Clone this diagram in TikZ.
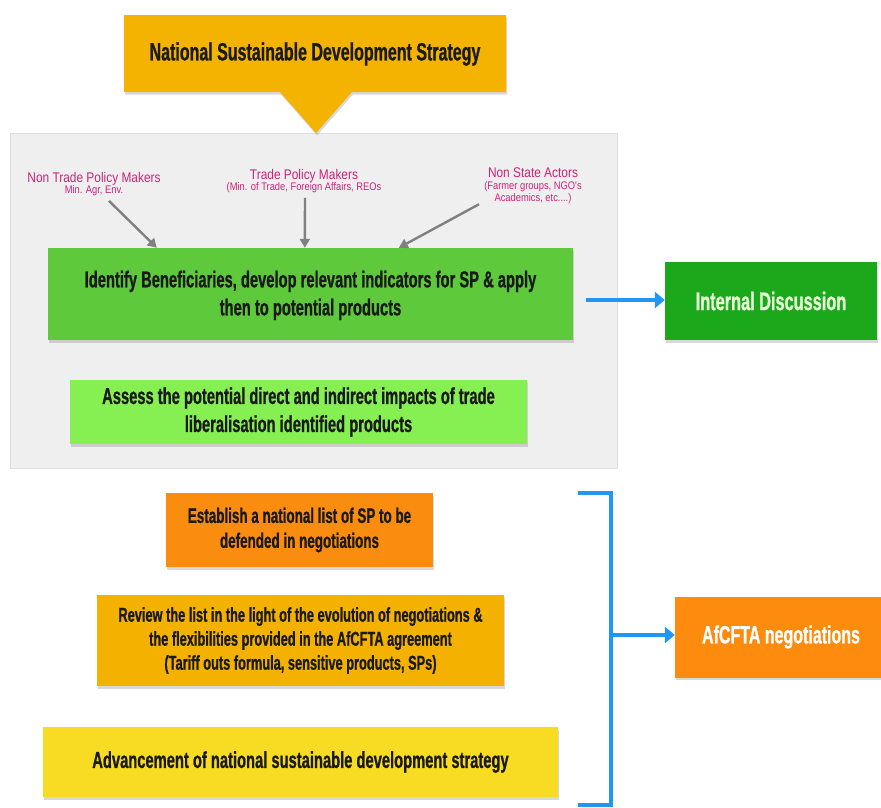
\documentclass[tikz,border=0pt]{standalone}
\usepackage{fontspec}
\setmainfont{Liberation Sans}
\newfontfamily\condb{Liberation Sans}[FakeStretch=0.64,FakeBold=0.8]
\newfontfamily\condr{Liberation Sans}[FakeStretch=0.85]
\usetikzlibrary{shadows,arrows.meta,calc}
\definecolor{titlecol}{HTML}{F3B300}
\definecolor{greenbox}{HTML}{5DC93B}
\definecolor{assessbox}{HTML}{86F053}
\definecolor{intdbox}{HTML}{1BA81B}
\definecolor{estbox}{HTML}{FA8C10}
\definecolor{revbox}{HTML}{F5B100}
\definecolor{advbox}{HTML}{F8DC23}
\definecolor{afcbox}{HTML}{FD8B0D}
\definecolor{blueline}{HTML}{2196F3}
\definecolor{magtext}{HTML}{CC2277}
\definecolor{grayarrow}{HTML}{808080}
\definecolor{panelfill}{HTML}{EFEFEF}
\definecolor{panelborder}{HTML}{DEDEDE}
\definecolor{darktext}{HTML}{1A1A1A}
\definecolor{lighttext}{HTML}{E6FFD8}
\tikzset{
  myshadow/.style={drop shadow={shadow xshift=1pt,shadow yshift=-2.5pt,opacity=0.3}},
  box/.style={inner sep=0pt,align=center,text=darktext,myshadow},
  lab/.style={inner sep=0pt,align=center,text=magtext},
  grayarr/.style={draw=grayarrow,line width=2.4pt,-{Triangle[length=9pt,width=10pt]}},
  bluearr/.style={draw=blueline,line width=4pt,-{Triangle[length=10pt,width=16pt]}},
  bluebr/.style={draw=blueline,line width=4pt}
}
\begin{document}
\begin{tikzpicture}[x=1pt,y=-1pt]
\useasboundingbox (0,0) rectangle (881,807);
\fill[white] (0,0) rectangle (881,807);
% panel
\node[fill=panelfill,draw=panelborder,line width=1pt,minimum width=607pt,minimum height=335pt,inner sep=0pt] (panel) at (313.5,300.5) {};
% title callout
\fill[titlecol,myshadow] (124,15) -- (506,15) -- (506,92) -- (352,92) -- (316,133) -- (280,92) -- (124,92) -- cycle;
\node[inner sep=0pt,text=darktext,font=\condb\bfseries\fontsize{25}{30}\selectfont] (nsds) at (315,54) {National Sustainable Development Strategy};
% labels
\node[lab] (ntpm) at (94,184) {\condr\fontsize{14}{17}\selectfont Non Trade Policy Makers\\[-1pt]\condr\fontsize{11}{13}\selectfont Min. Agr, Env.};
\node[lab] (tpm) at (304,181) {\condr\fontsize{14}{17}\selectfont Trade Policy Makers\\[-1pt]\condr\fontsize{11}{13}\selectfont (Min. of Trade, Foreign Affairs, REOs};
\node[lab] (nsa) at (533,186) {\condr\fontsize{14}{17}\selectfont Non State Actors\\[0pt]\condr\fontsize{11}{14}\selectfont (Farmer groups, NGO's\\\condr\fontsize{11}{14}\selectfont Academics, etc....)};
% boxes
\node[box,fill=greenbox,minimum width=525pt,minimum height=92pt,font=\condb\bfseries\fontsize{23}{28}\selectfont,text depth=2pt] (green) at (310.5,294) {Identify Beneficiaries, develop relevant indicators for SP \& apply\\then to potential products};
\node[box,fill=assessbox,minimum width=457pt,minimum height=64pt,font=\condb\bfseries\fontsize{23}{28}\selectfont] (assess) at (298.5,412) {Assess the potential direct and indirect impacts of trade\\liberalisation identified products};
\node[box,fill=intdbox,minimum width=212pt,minimum height=78pt,text=lighttext,font=\condb\bfseries\fontsize{25.5}{30}\selectfont] (intd) at (771,301) {Internal Discussion};
\node[box,fill=estbox,minimum width=267pt,minimum height=74pt,font=\condb\bfseries\fontsize{21}{25}\selectfont] (est) at (299.5,530) {Establish a national list of SP to be\\defended in negotiations};
\node[box,fill=revbox,minimum width=407pt,minimum height=91pt,font=\condb\bfseries\fontsize{20}{24}\selectfont] (rev) at (300.5,640.5) {Review the list in the light of the evolution of negotiations \&\\the flexibilities provided in the AfCFTA agreement\\(Tariff outs formula, sensitive products, SPs)};
\node[box,fill=advbox,minimum width=515pt,minimum height=70pt,font=\condb\bfseries\fontsize{23}{28}\selectfont] (adv) at (300.5,762) {Advancement of national sustainable development strategy};
\node[box,fill=afcbox,minimum width=212pt,minimum height=81pt,text=white,font=\condb\bfseries\fontsize{25}{30}\selectfont] (afc) at (781,637) {AfCFTA negotiations};
% gray arrows
\draw[grayarr] ($(ntpm.south)+(15,5)$) -- ($(green.north west)+(109,0)$);
\draw[grayarr] ($(tpm.south)+(1,5)$) -- ($(green.north west)+(257,0)$);
\draw[grayarr] ($(nsa.south)+(-54,0)$) -- ($(green.north west)+(351,0)$);
% blue
\coordinate (b1) at (586,300);
\draw[bluearr] (b1) -- (intd.west |- b1);
\coordinate (bt) at (578,493);
\coordinate (btr) at (611,493);
\coordinate (bbr) at (611,805);
\coordinate (bb) at (578,805);
\draw[bluebr] (bt) -- (btr) -- (bbr) -- (bb);
\coordinate (bm) at (611,635);
\draw[bluearr] (bm) -- (afc.west |- bm);
\end{tikzpicture}
\end{document}
